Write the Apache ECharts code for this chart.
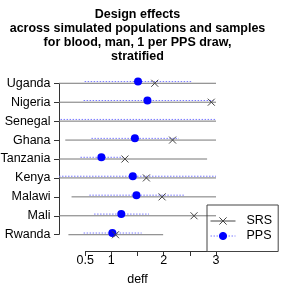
<!DOCTYPE html>
<html>
<head>
<meta charset="utf-8">
<script src="https://cdn.jsdelivr.net/npm/echarts@6/dist/echarts.min.js"></script>
<style>html,body{margin:0;padding:0;background:#fff}#c{width:285px;height:285px}</style>
</head>
<body>
<div id="c"></div>
<script>
const countries = ['Uganda','Nigeria','Senegal','Ghana','Tanzania','Kenya','Malawi','Mali','Rwanda'];
const srsMean = [1.83, 2.91, null, 2.17, 1.26, 1.67, 1.97, 2.58, 1.08];
const srsLo   = [0, 0, 0, 0.12, 0, 0, 0.24, 0, 0.18];
const srsHi   = [3, 3, 3, 3, 2.83, 3, 3, 3, 1.99];
const ppsMean = [1.51, 1.69, null, 1.45, 0.81, 1.41, 1.48, 1.19, 1.02];
const ppsLo   = [0.49, 0.47, 0.03, 0.62, 0.41, 0, 0.58, 0.67, 0.47];
const ppsHi   = [2.54, 2.95, 2.99, 2.29, 1.22, 3, 2.40, 1.72, 1.58];
const xTicks  = [0.5, 1, 1.5, 2, 2.5, 3];
const xLabels = [0.5, 1, 2, 3];
const titleText = 'Design effects\nacross simulated populations and samples\nfor blood, man, 1 per PPS draw,\nstratified';

const rows = countries.map((c, i) => i + 1);
const PPS_SHIFT = -0.09;
const FONT = '"Liberation Sans", Arial, Helvetica, sans-serif';

const srsRange = rows.map((r, i) => [srsLo[i], srsHi[i], r]);
const ppsRange = rows.map((r, i) => [ppsLo[i], ppsHi[i], r + PPS_SHIFT]);
const srsPts = rows.map((r, i) => [srsMean[i], r]).filter(d => d[0] != null);
const ppsPts = rows.map((r, i) => [ppsMean[i], r + PPS_SHIFT]).filter(d => d[0] != null);

function rangeRender(color, dash) {
  return function (params, api) {
    const a = api.coord([api.value(0), api.value(2)]);
    const b = api.coord([api.value(1), api.value(2)]);
    return {
      type: 'line',
      shape: { x1: a[0], y1: a[1], x2: b[0], y2: b[1] },
      style: { stroke: color, lineWidth: 1, lineDash: dash }
    };
  };
}

const chart = echarts.init(document.getElementById('c'), null, { renderer: 'canvas' });
chart.setOption({
  animation: false,
  backgroundColor: '#fff',
  textStyle: { fontFamily: FONT },
  title: {
    text: titleText,
    left: 137.5, top: 8, textAlign: 'center', padding: 0,
    textStyle: { fontFamily: FONT, fontSize: 12.5, fontWeight: 'bold', lineHeight: 14, color: '#000' }
  },
  grid: { left: 59, right: 69, top: 67, bottom: 34, containLabel: false, outerBoundsMode: 'none' },
  xAxis: {
    type: 'value', min: 0, max: 3,
    name: 'deff', nameLocation: 'middle', nameGap: 22,
    nameTextStyle: { fontFamily: FONT, fontSize: 12.5, color: '#000' },
    axisLine: { show: false },
    axisTick: { show: true, length: 5, customValues: xTicks, lineStyle: { color: '#333' } },
    axisLabel: { customValues: xLabels, margin: 3.5, fontFamily: FONT, fontSize: 12.5, color: '#000',
      formatter: v => String(v) },
    splitLine: { show: false }
  },
  yAxis: {
    type: 'value', inverse: true, min: 0.14, max: 9.86,
    axisLine: { show: false },
    axisTick: { show: true, length: 5, customValues: rows, lineStyle: { color: '#333' } },
    axisLabel: { customValues: rows, margin: 8.5, fontFamily: FONT, fontSize: 12.5, color: '#000',
      formatter: v => countries[Math.round(v) - 1] || '' },
    splitLine: { show: false }
  },
  legend: {
    orient: 'vertical', left: 207, top: 205,
    padding: [9.5, 6, 9, 3], itemWidth: 25, itemHeight: 9, itemGap: 2,
    borderColor: '#444', borderWidth: 1, borderRadius: 0,
    data: ['SRS', 'PPS'],
    lineStyle: { opacity: 1, width: 1 },
    itemStyle: { borderWidth: 1 },
    textStyle: { fontFamily: FONT, fontSize: 12.5, lineHeight: 12.3, color: '#000', padding: [0, 0, 0, 6] }
  },
  series: [
    { name: 'SRS range', type: 'custom', renderItem: rangeRender('#777', null),
      encode: { x: [0, 1], y: 2 }, data: srsRange, silent: true },
    { name: 'PPS range', type: 'custom', renderItem: rangeRender('#7878ff', [1.5, 1.5]),
      encode: { x: [0, 1], y: 2 }, data: ppsRange, silent: true },
    { name: 'PPS', type: 'line', data: ppsPts, symbol: 'circle', symbolSize: 8,
      itemStyle: { color: '#0000ff', borderColor: '#0000ff', borderWidth: 0 },
      lineStyle: { color: '#7878ff', width: 1, type: [1.5, 1.5], opacity: 0 }, silent: true },
    { name: 'SRS', type: 'line', data: srsPts, symbol: 'path://M0,0L10,10M10,0L0,10', symbolSize: 7,
      itemStyle: { color: '#444', borderColor: '#444', borderWidth: 1 },
      lineStyle: { color: '#444', width: 1, type: 'solid', opacity: 0 }, silent: true }
  ]
});

// R-style axis lines: span only from first to last tick
const xa = v => chart.convertToPixel({ xAxisIndex: 0 }, v);
const ya = v => chart.convertToPixel({ yAxisIndex: 0 }, v);
const yBottom = Math.round(ya(9.86)) + 0.5;
const xLeft = Math.round(xa(0)) + 0.5;
chart.setOption({
  graphic: [
    { type: 'line', silent: true, shape: { x1: xa(xTicks[0]), y1: yBottom, x2: xa(xTicks[xTicks.length - 1]), y2: yBottom },
      style: { stroke: '#333', lineWidth: 1 } },
    { type: 'line', silent: true, shape: { x1: xLeft, y1: ya(rows[0]), x2: xLeft, y2: ya(rows[rows.length - 1]) },
      style: { stroke: '#333', lineWidth: 1 } }
  ]
});
</script>
</body>
</html>
